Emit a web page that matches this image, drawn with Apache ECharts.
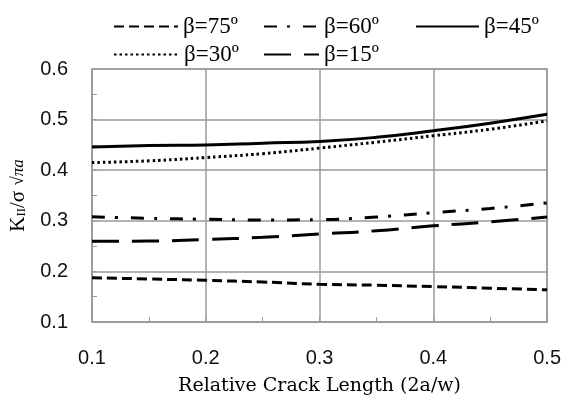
<!DOCTYPE html>
<html>
<head>
<meta charset="utf-8">
<script src="https://cdn.jsdelivr.net/npm/echarts@6/dist/echarts.min.js"></script>
<style>
html,body{margin:0;padding:0;background:#fff;}
#chart{width:564px;height:401px;}
</style>
</head>
<body>
<div id="chart"></div>
<script>
// Data
var xValues = [0.1, 0.15, 0.2, 0.25, 0.3, 0.35, 0.4, 0.45, 0.5];
var beta75 = [0.1875, 0.185, 0.1824, 0.179, 0.1746, 0.1727, 0.170, 0.1668, 0.1636];
var beta60 = [0.308, 0.305, 0.303, 0.3017, 0.3023, 0.3075, 0.316, 0.3244, 0.3354];
var beta45 = [0.4457, 0.449, 0.450, 0.4535, 0.4567, 0.465, 0.478, 0.493, 0.5105];
var beta30 = [0.415, 0.4185, 0.425, 0.4327, 0.4437, 0.4554, 0.468, 0.481, 0.4975];
var beta15 = [0.2595, 0.260, 0.263, 0.2673, 0.2738, 0.2803, 0.290, 0.2978, 0.3075];
var seriesNames = ['β=75º', 'β=60º', 'β=45º', 'β=30º', 'β=15º'];
var xTicks = [0.1, 0.2, 0.3, 0.4, 0.5];
var yTicks = [0.1, 0.2, 0.3, 0.4, 0.5, 0.6];

function pairs(arr) { return xValues.map(function (x, i) { return [x, arr[i]]; }); }

var chart = echarts.init(document.getElementById('chart'), null, {renderer: 'canvas'});
var serif = '"Liberation Serif", "Times New Roman", serif';
var sans = '"Liberation Sans", Arial, sans-serif';
var gray = '#9a9a9a';

function legendItem(name, left, top, w) {
  return {
    data: [name], left: left, top: top, itemWidth: w, itemHeight: 14,
    padding: 0, itemGap: 0,
    itemStyle: {opacity: 0, borderWidth: 0},
    textStyle: {fontFamily: serif, fontSize: 23, color: '#000'}
  };
}

var mk = function (name, data, type, width) {
  return {
    name: name, type: 'line', data: pairs(data), smooth: true,
    symbol: 'none', showSymbol: false,
    lineStyle: {color: '#000', width: width, type: type, cap: 'butt'},
    itemStyle: {color: '#000'}
  };
};

chart.setOption({
  animation: false,
  backgroundColor: '#fff',
  legend: [
    legendItem(seriesNames[0], 113, 15, 64),
    legendItem(seriesNames[1], 263, 15, 55),
    legendItem(seriesNames[2], 415, 15, 63),
    legendItem(seriesNames[3], 113, 43, 65),
    legendItem(seriesNames[4], 263, 43, 55)
  ],
  grid: {left: 92, right: 13, top: 69, bottom: 75, show: true, borderColor: gray, borderWidth: 1.5, containLabel: false},
  xAxis: {
    type: 'value', min: 0.1, max: 0.5, interval: 0.1,
    name: 'Relative Crack Length (2a/w)', nameLocation: 'middle', nameGap: 55,
    nameTextStyle: {fontFamily: '"DejaVu Serif", serif', fontSize: 19, color: '#000'},
    axisLine: {show: true, lineStyle: {color: gray, width: 1.5}},
    axisTick: {show: true, inside: true, length: 5, lineStyle: {color: gray}},
    minorTick: {show: true, splitNumber: 2, length: 5, lineStyle: {color: gray, width: 1}},
    splitLine: {show: true, lineStyle: {color: gray, width: 1.5}},
    axisLabel: {fontFamily: sans, fontSize: 20, color: '#111', margin: 26,
      formatter: function (v) { return xTicks.indexOf(Math.round(v*10)/10) >= 0 ? v.toFixed(1) : ''; }}
  },
  yAxis: {
    type: 'value', min: 0.1, max: 0.6, interval: 0.1,
    name: '{k|K}{s|II}{k|/σ }{r|√πa}', nameLocation: 'middle', nameGap: 58, nameRotate: 90,
    nameTextStyle: {rich: {
      k: {fontFamily: serif, fontSize: 21, color: '#000'},
      s: {fontFamily: serif, fontSize: 13, color: '#000', padding: [6, 0, 0, 0]},
      r: {fontFamily: serif, fontSize: 17, fontStyle: 'italic', color: '#000'}
    }},
    axisLine: {show: true, lineStyle: {color: gray, width: 1.5}},
    axisTick: {show: true, inside: true, length: 5, lineStyle: {color: gray}},
    minorTick: {show: true, splitNumber: 2, length: 5, lineStyle: {color: gray, width: 1}},
    splitLine: {show: true, lineStyle: {color: gray, width: 1.5}},
    axisLabel: {fontFamily: sans, fontSize: 20, color: '#111', margin: 24,
      formatter: function (v) { return yTicks.indexOf(Math.round(v*10)/10) >= 0 ? v.toFixed(1) : ''; }}
  },
  series: [
    mk(seriesNames[0], beta75, [10, 5], 3),
    mk(seriesNames[1], beta60, [13, 10, 3, 13], 3),
    mk(seriesNames[2], beta45, 'solid', 3),
    mk(seriesNames[3], beta30, [2.5, 3], 3),
    mk(seriesNames[4], beta15, [27, 13], 3)
  ]
});
</script>
</body>
</html>
